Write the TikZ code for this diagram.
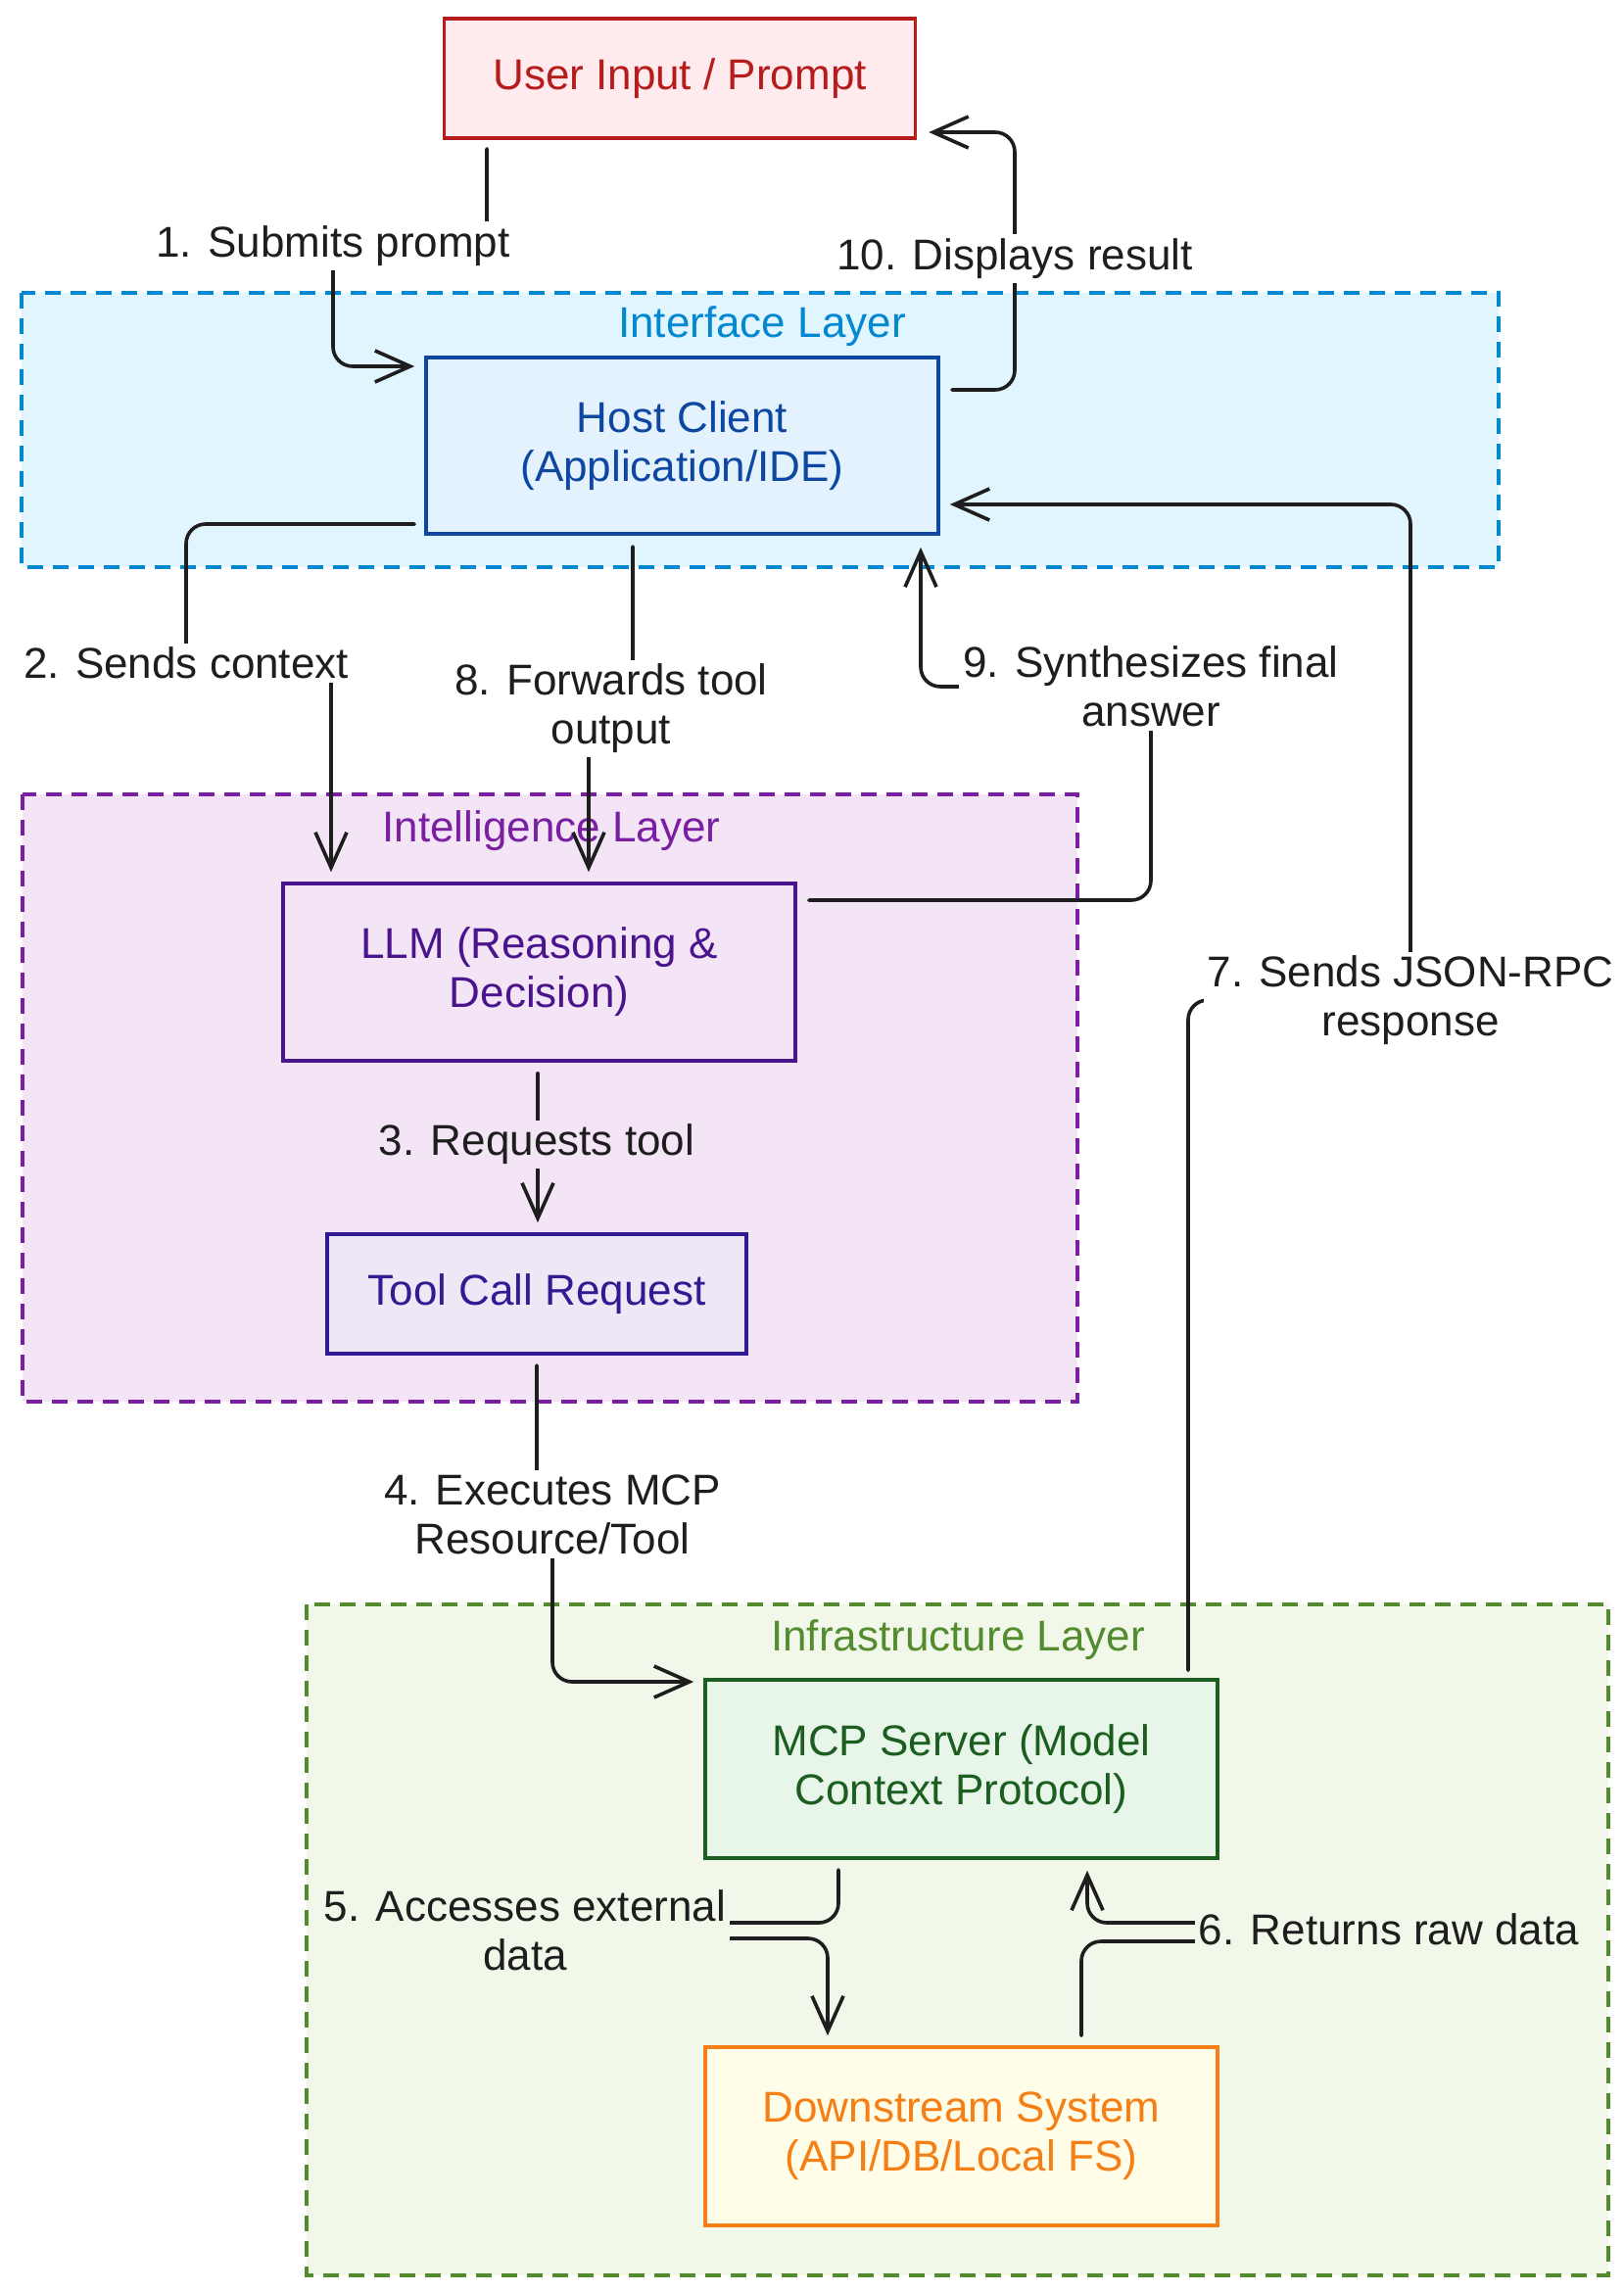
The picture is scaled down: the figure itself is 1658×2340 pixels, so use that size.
\documentclass[tikz,border=0pt]{standalone}
\usepackage{fontspec}
\setmainfont{Liberation Sans}
\usetikzlibrary{arrows.meta,calc}
\definecolor{arrowc}{HTML}{1E1E1E}
\definecolor{redS}{HTML}{B71C1C}\definecolor{redF}{HTML}{FFEBEE}
\definecolor{blueC}{HTML}{0288D1}\definecolor{blueF}{HTML}{E1F5FE}
\definecolor{hostS}{HTML}{0D47A1}\definecolor{hostF}{HTML}{E3F2FD}
\definecolor{purpC}{HTML}{7B1FA2}\definecolor{purpF}{HTML}{F3E5F5}
\definecolor{llmS}{HTML}{4A148C}\definecolor{llmF}{HTML}{F3E5F5}
\definecolor{toolS}{HTML}{311B92}\definecolor{toolF}{HTML}{EDE7F6}
\definecolor{greenC}{HTML}{558B2F}\definecolor{greenF}{HTML}{F1F8E9}
\definecolor{mcpS}{HTML}{1B5E20}\definecolor{mcpF}{HTML}{E8F5E9}
\definecolor{downS}{HTML}{F57F17}\definecolor{downF}{HTML}{FFFDE7}
\begin{document}
\begin{tikzpicture}[x=0.5pt,y=-0.5pt,
  every node/.style={font=\fontsize{22}{25}\selectfont},
  cont/.style={line width=1.9pt, dash pattern=on 8pt off 5pt},
  box/.style={rectangle, line width=1.8pt, inner sep=0pt, align=center},
  conn/.style={draw=arrowc, line width=1.8pt, rounded corners=10pt, line cap=round, line join=round, -{Straight Barb[length=18pt,width=16pt]}},
  elab/.style={fill=white, inner sep=2pt, align=center, text=arrowc}
]
\useasboundingbox (0,0) rectangle (1658,2340);
\fill[white] (0,0) rectangle (1658,2340);

% containers
\draw[cont, draw=blueC, fill=blueF] (22,299) rectangle (1530,579);
\draw[cont, draw=purpC, fill=purpF] (23,811) rectangle (1100,1431);
\draw[cont, draw=greenC, fill=greenF] (313,1638) rectangle (1642,2323);
\node[text=blueC] (lif) at (778,333) {Interface Layer};
\node[text=purpC] (lil) at (563,848) {Intelligence Layer};
\node[text=greenC] (lin) at (978,1674) {Infrastructure Layer};

% boxes
\node[box, draw=redS, fill=redF, text=redS, minimum width=240.5pt, minimum height=61pt] (user) at (694,80) {User Input / Prompt};
\node[box, draw=hostS, fill=hostF, text=hostS, minimum width=261.5pt, minimum height=90pt] (host) at (696.5,455) {Host Client\\(Application/IDE)};
\node[box, draw=llmS, fill=llmF, text=llmS, minimum width=261.5pt, minimum height=90.5pt] (llm) at (550.5,992.5) {LLM (Reasoning \&\\Decision)};
\node[box, draw=toolS, fill=toolF, text=toolS, minimum width=214pt, minimum height=61pt] (tool) at (548,1321) {Tool Call Request};
\node[box, draw=mcpS, fill=mcpF, text=mcpS, minimum width=261.5pt, minimum height=91pt] (mcp) at (981.5,1806) {MCP Server (Model\\Context Protocol)};
\node[box, draw=downS, fill=downF, text=downS, minimum width=261.5pt, minimum height=91pt] (down) at (981.5,2181) {Downstream System\\(API/DB/Local FS)};

% edge label positions
\coordinate (c1) at (340,251);
\coordinate (c10) at (1036,264);
\coordinate (c2) at (190,677);
\coordinate (c8) at (624,723);
\coordinate (c9) at (1175,701);
\coordinate (c7) at (1440,1021);
\coordinate (c3) at (548,1168);
\coordinate (c4) at (564,1546);
\coordinate (c5) at (536,1971);
\coordinate (c6) at (1418,1970);

% connectors
\draw[conn] ($(user.south)+(-197,9)$) |- (c1) |- ($(host.west)+(-10,-81)$);
\draw[conn] ($(host.east)+(12,-57)$) -| (c10) |- ($(user.east)+(12,55)$);
\draw[conn] ($(host.west)+(-10,80)$) -| (c2) -| ($(llm.north)+(-212.5,-10)$);
\draw[conn] ($(host.south)+(-50.5,11)$) |- (c8) -| ($(llm.north)+(50.5,-10)$);
\draw[conn] ($(llm.east)+(12,-73.5)$) -| (c9) -| ($(host.south)+(243.5,12)$);
\draw[conn] ($(mcp.north)+(231.5,-8)$) |- (c7) |- ($(host.east)+(10,60)$);
\draw[conn] ($(llm.south)+(-1.5,11)$) -- ($(tool.north)+(1,-10)$);
\draw[conn] ($(tool.south)+(0,10)$) |- (c4) |- ($(mcp.west)+(-10,-89)$);
\draw[conn] ($(mcp.south)+(-125.5,10)$) |- ($(c5)+(0,-8)$) -- ($(c5)+(0,8)$) -| ($(down.north)+(-136.5,-10)$);
\draw[conn] ($(down.north)+(122.5,-10)$) |- ($(c6)+(0,12)$) -- ($(c6)+(0,-7)$) -| ($(mcp.south)+(128.5,11)$);

% edge labels
\node[elab] (l1) at (c1) {1. Submits prompt};
\node[elab] (l10) at (c10) {10. Displays result};
\node[elab] (l2) at (c2) {2. Sends context};
\node[elab] (l8) at (c8) {8. Forwards tool\\output};
\node[elab] (l9) at (c9) {9. Synthesizes final\\answer};
\node[elab] (l7) at (c7) {7. Sends JSON-RPC\\response};
\node[elab, fill=purpF] (l3) at (c3) {3. Requests tool};
\node[elab] (l4) at (c4) {4. Executes MCP\\Resource/Tool};
\node[elab, fill=greenF] (l5) at (c5) {5. Accesses external\\data};
\node[elab, fill=greenF] (l6) at (c6) {6. Returns raw data};
\end{tikzpicture}
\end{document}
